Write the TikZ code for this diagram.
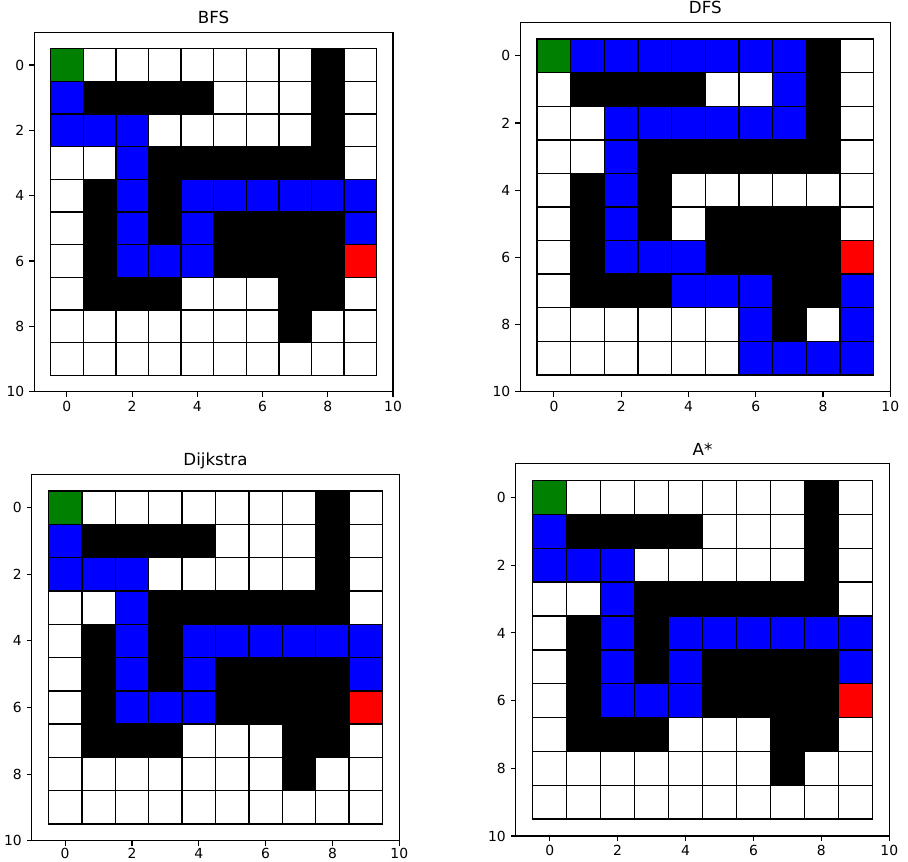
\documentclass[tikz,border=0pt]{standalone}
\usepackage{fontspec}
\setmainfont{DejaVu Sans}
\definecolor{cg}{HTML}{008000}
\definecolor{cb}{HTML}{0000FF}
\definecolor{cr}{HTML}{FF0000}
\definecolor{ck}{HTML}{000000}
\definecolor{cw}{HTML}{FFFFFF}
\tikzset{
  cell/.style={draw=black, line width=1pt},
  spine/.style={draw=black, line width=0.8pt},
  tickmark/.style={draw=black, line width=0.8pt},
  xlab/.style={anchor=north, inner sep=0pt, font=\fontsize{10}{12}\selectfont},
  ylab/.style={anchor=east, inner sep=0pt, font=\fontsize{10}{12}\selectfont},
  ttl/.style={anchor=base, inner sep=0pt, font=\fontsize{12}{14}\selectfont}
}
\newcommand\mazeplot[8]{%
  \pgfmathsetmacro\sxx{(#4-#2)/11}%
  \pgfmathsetmacro\syy{(#5-#3)/11}%
  \pgfmathsetmacro\uxx{\sxx*0.72}%
  \pgfmathsetmacro\uyy{-\syy*0.72}%
  \begin{scope}[shift={(#2+\sxx,#3+\syy)}, x=\uxx pt, y=\uyy pt]
    \foreach \r/\row in {#7} {
      \foreach \c [count=\i from 0] in \row {
        \draw[cell, fill=c\c] (\i-0.5,\r-0.5) rectangle (\i+0.5,\r+0.5);
      }
    }
    \draw[spine] (-1,-1) rectangle (10,10);
    \foreach \t in {0,2,...,10} {
      \draw[tickmark] (\t,10) -- ++(0pt,-3.5pt);
      \draw[tickmark] (-1,\t) -- ++(-3.5pt,0pt);
      \node[xlab] (#1x\t) at ([yshift=-#8]\t,10) {\t};
      \node[ylab] (#1y\t) at ([xshift=-7pt]-1,\t) {\t};
    }
    \node[ttl] (#1title) at ([yshift=6pt]4.5,-1) {#6};
  \end{scope}
}
\begin{document}
\begin{tikzpicture}[x=0.72pt, y=-0.72pt]
\useasboundingbox (0,0) rectangle (908,861);
\mazeplot{bfs}{34.3}{32.3}{393}{391.7}{BFS}{%
0/{g,w,w,w,w,w,w,w,k,w},
1/{b,k,k,k,k,w,w,w,k,w},
2/{b,b,b,w,w,w,w,w,k,w},
3/{w,w,b,k,k,k,k,k,k,w},
4/{w,k,b,k,b,b,b,b,b,b},
5/{w,k,b,k,b,k,k,k,k,b},
6/{w,k,b,b,b,k,k,k,k,r},
7/{w,k,k,k,w,w,w,k,k,w},
8/{w,w,w,w,w,w,w,k,w,w},
9/{w,w,w,w,w,w,w,w,w,w}}{6.5pt}
\mazeplot{dfs}{520.3}{22.3}{890.3}{391.7}{DFS}{%
0/{g,b,b,b,b,b,b,b,k,w},
1/{w,k,k,k,k,w,w,b,k,w},
2/{w,w,b,b,b,b,b,b,k,w},
3/{w,w,b,k,k,k,k,k,k,w},
4/{w,k,b,k,w,w,w,w,w,w},
5/{w,k,b,k,w,k,k,k,k,w},
6/{w,k,b,b,b,k,k,k,k,r},
7/{w,k,k,k,b,b,b,k,k,b},
8/{w,w,w,w,w,w,b,k,w,b},
9/{w,w,w,w,w,w,b,b,b,b}}{6.5pt}
\mazeplot{dij}{31.7}{474.3}{399.3}{840.7}{Dijkstra}{%
0/{g,w,w,w,w,w,w,w,k,w},
1/{b,k,k,k,k,w,w,w,k,w},
2/{b,b,b,w,w,w,w,w,k,w},
3/{w,w,b,k,k,k,k,k,k,w},
4/{w,k,b,k,b,b,b,b,b,b},
5/{w,k,b,k,b,k,k,k,k,b},
6/{w,k,b,b,b,k,k,k,k,r},
7/{w,k,k,k,w,w,w,k,k,w},
8/{w,w,w,w,w,w,w,k,w,w},
9/{w,w,w,w,w,w,w,w,w,w}}{5pt}
\mazeplot{ast}{515.7}{463.7}{889.3}{836}{A*}{%
0/{g,w,w,w,w,w,w,w,k,w},
1/{b,k,k,k,k,w,w,w,k,w},
2/{b,b,b,w,w,w,w,w,k,w},
3/{w,w,b,k,k,k,k,k,k,w},
4/{w,k,b,k,b,b,b,b,b,b},
5/{w,k,b,k,b,k,k,k,k,b},
6/{w,k,b,b,b,k,k,k,k,r},
7/{w,k,k,k,w,w,w,k,k,w},
8/{w,w,w,w,w,w,w,k,w,w},
9/{w,w,w,w,w,w,w,w,w,w}}{6.5pt}
\end{tikzpicture}
\end{document}
